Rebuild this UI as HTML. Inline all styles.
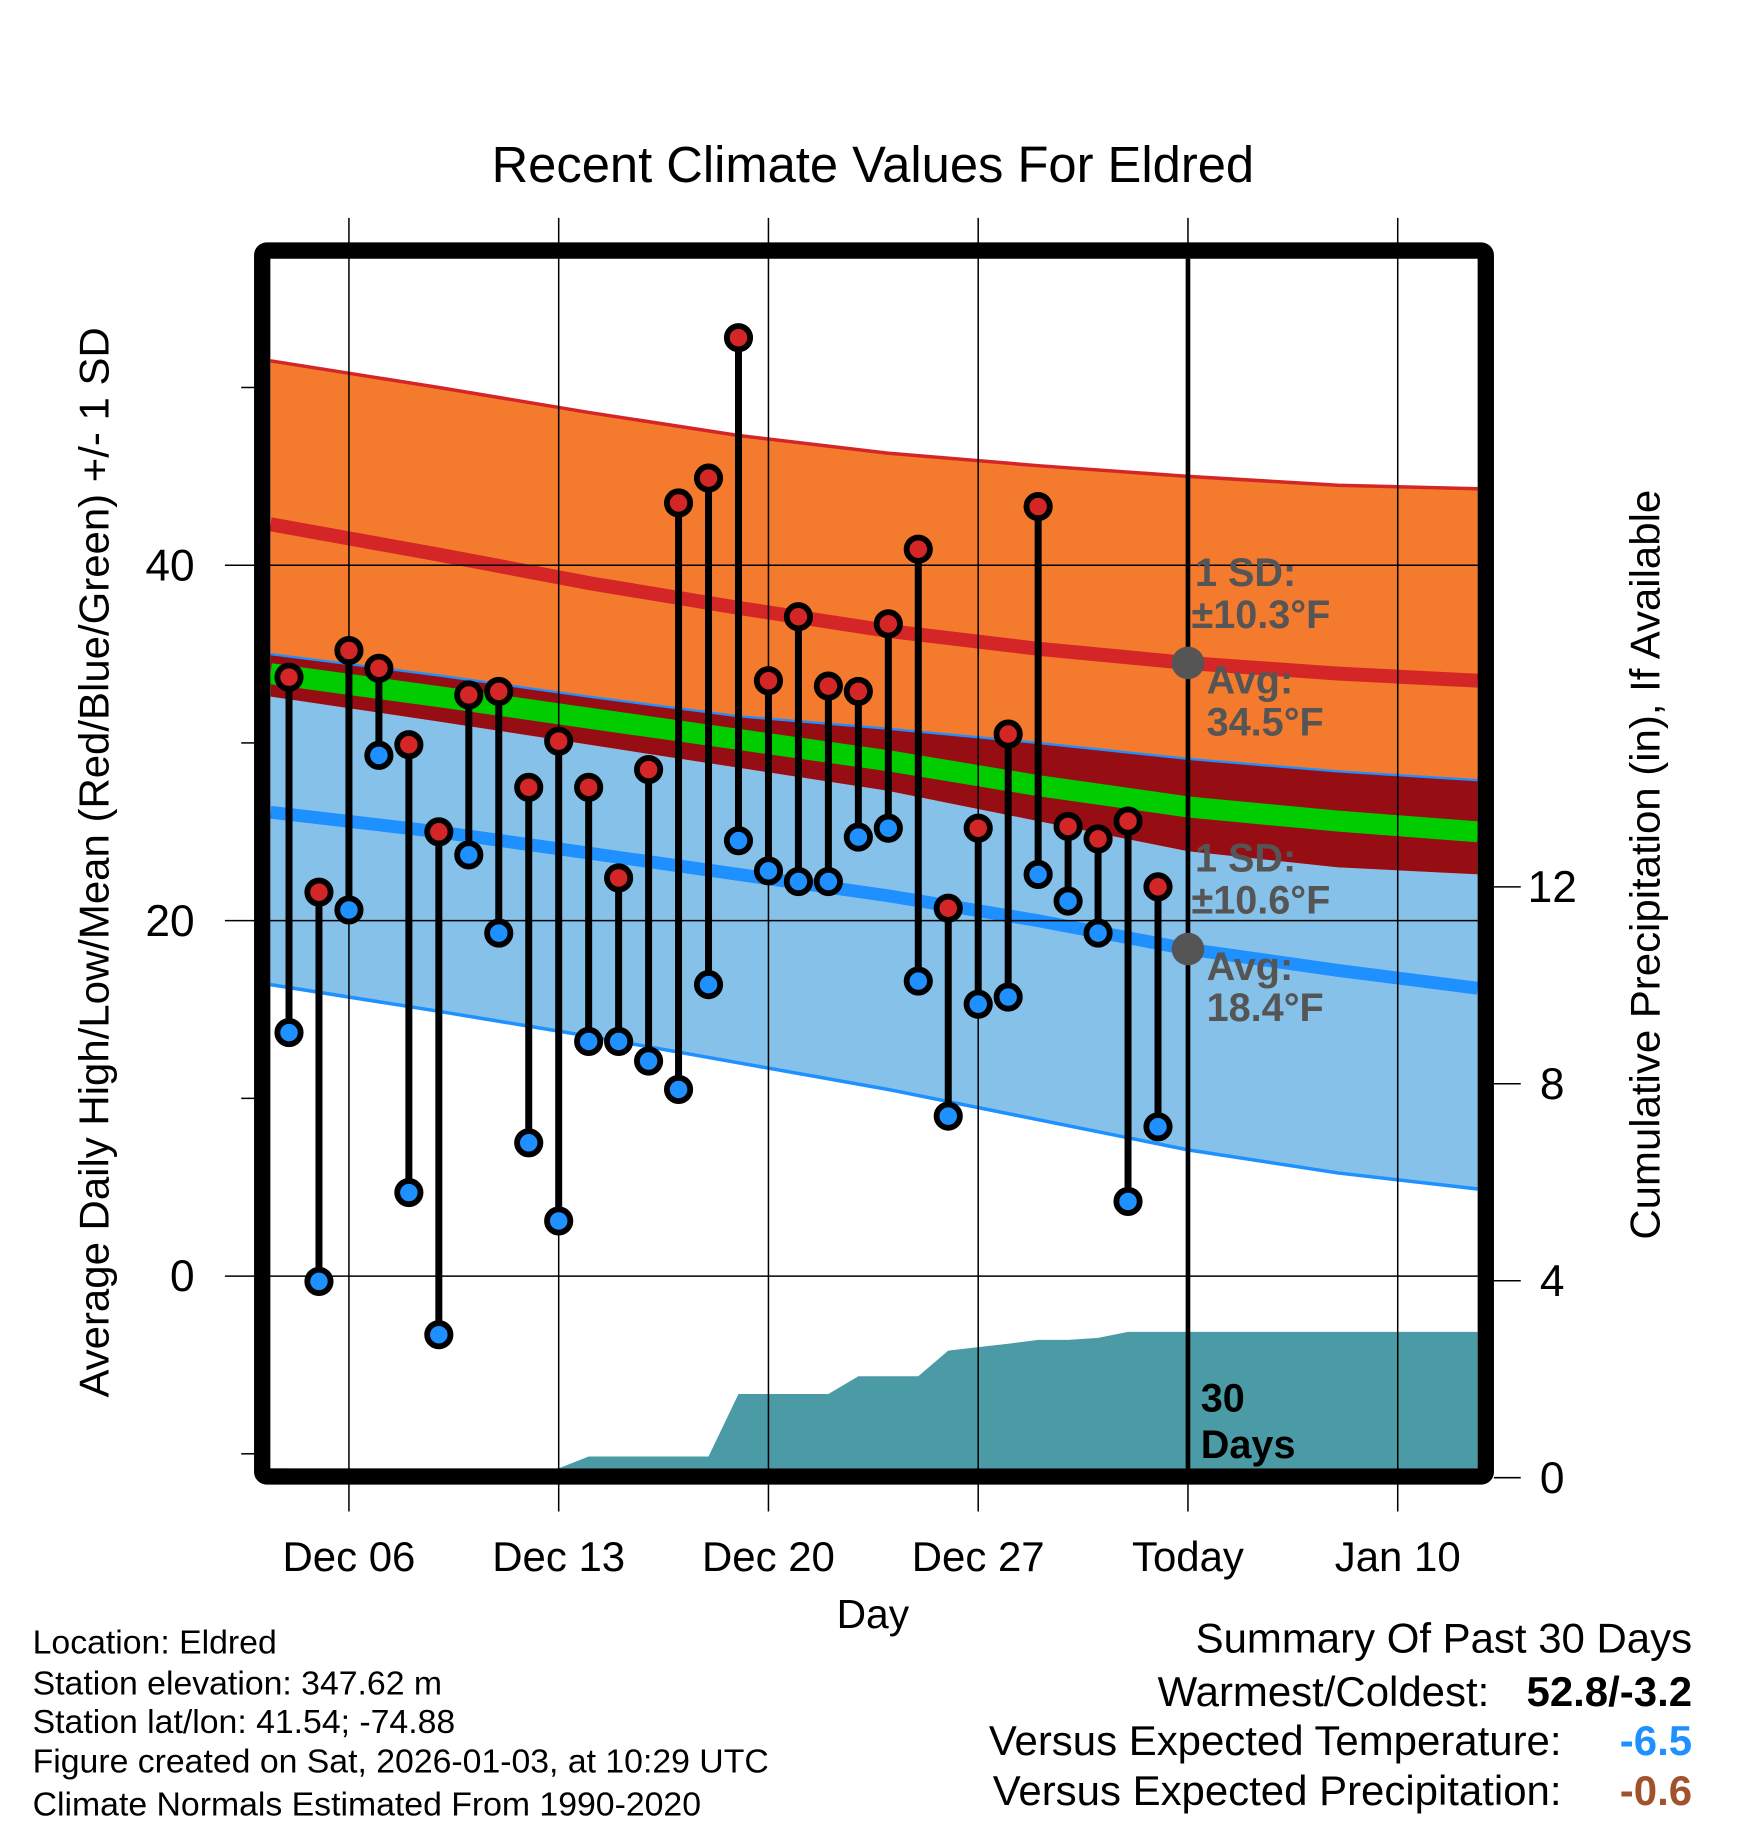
<!DOCTYPE html>
<html><head><meta charset="utf-8"><style>
html,body{margin:0;padding:0;background:#fff}
svg{display:block}
text{font-family:"Liberation Sans",sans-serif}
</style></head><body>
<svg id="chart" width="1748" height="1828" viewBox="0 0 1500 1568.6" preserveAspectRatio="none" xmlns="http://www.w3.org/2000/svg">
<text x="749" y="156" font-size="43.5" text-anchor="middle">Recent Climate Values For Eldred</text>
<g id="plot"></g>
<text x="749" y="1397" font-size="35" text-anchor="middle">Day</text>
<text transform="translate(93,740) rotate(-90)" font-size="36" text-anchor="middle">Average Daily High/Low/Mean (Red/Blue/Green) +/- 1 SD</text>
<text transform="translate(1424,742) rotate(-90)" font-size="36" text-anchor="middle">Cumulative Precipitation (in), If Available</text>
<g font-size="29">
<text x="28" y="1419">Location: Eldred</text>
<text x="28" y="1454">Station elevation: 347.62 m</text>
<text x="28" y="1487">Station lat/lon: 41.54; -74.88</text>
<text x="28" y="1521">Figure created on Sat, 2026-01-03, at 10:29 UTC</text>
<text x="28" y="1558">Climate Normals Estimated From 1990-2020</text>
</g>
<g font-size="36">
<text x="1452" y="1418" text-anchor="end">Summary Of Past 30 Days</text>
<text x="1278" y="1464" text-anchor="end">Warmest/Coldest:</text>
<text x="1452" y="1464" text-anchor="end" font-weight="bold">52.8/-3.2</text>
<text x="1340" y="1506" text-anchor="end">Versus Expected Temperature:</text>
<text x="1452" y="1506" text-anchor="end" font-weight="bold" fill="#1e90ff">-6.5</text>
<text x="1340" y="1549" text-anchor="end">Versus Expected Precipitation:</text>
<text x="1452" y="1549" text-anchor="end" font-weight="bold" fill="#a0522d">-0.6</text>
</g>
</svg>
<script>
// ---- data ----
const highs = [33.7,21.6,35.2,34.2,29.9,25.0,32.7,32.9,27.5,30.1,27.5,22.4,28.5,43.5,44.9,52.8,33.5,37.1,33.2,32.9,36.7,40.9,20.7,25.2,30.5,43.3,25.3,24.6,25.6,21.9];
const lows = [13.7,-0.3,20.6,29.3,4.7,-3.3,23.7,19.3,7.5,3.1,13.2,13.2,12.1,10.5,16.4,24.5,22.8,22.2,22.2,24.7,25.2,16.6,9.0,15.3,15.7,22.6,21.1,19.3,4.2,8.4];
const precip = [0,0,0,0,0,0,0,0,0,0,0.43,0.43,0.43,0.43,0.43,1.7,1.7,1.7,1.7,2.06,2.06,2.06,2.58,2.65,2.72,2.8,2.8,2.84,2.96,2.96];
const normDays = [-0.62,5,10,15,20,25,30,35,39.67];
const highUpper = [51.5,50.0,48.6,47.3,46.3,45.6,45.0,44.5,44.3];
const highMean = [42.3,40.6,39.0,37.6,36.3,35.3,34.5,33.9,33.5];
const highLower = [35.0,33.8,32.6,31.5,30.8,30.0,29.1,28.4,27.9];
const meanTemp = [33.9,32.6,31.4,30.2,29.0,27.6,26.4,25.6,25.0];
const lowUpper = [32.6,31.2,29.9,28.6,27.3,25.6,23.9,23.0,22.6];
const lowMean = [26.1,25.0,23.8,22.6,21.4,20.0,18.4,17.2,16.2];
const lowLower = [16.4,14.9,13.5,12.0,10.5,8.8,7.1,5.8,4.9];
const dayLabels = ["Dec 06","Dec 13","Dec 20","Dec 27","Today","Jan 10"];
const dayLabelOffsets = [2,9,16,23,30,37];
const yTicks = [0,20,40];
const y2Ticks = [0,4,8,12];

// ---- axes ----
const L=232,R=1268,T=222,B=1260;
const xS = d => 248 + d*25.714;
const yS = v => 1095 - v*15.25;
const y2S = p => 1268 - p*42.25;
const NS="http://www.w3.org/2000/svg";
const g=document.getElementById('plot');
function mk(tag,attrs,parent){const e=document.createElementNS(NS,tag);for(const k in attrs)e.setAttribute(k,attrs[k]);(parent||g).appendChild(e);return e;}
function pts(arr){return normDays.map((d,i)=>xS(d).toFixed(1)+','+yS(arr[i]).toFixed(1));}
function band(up,lo,fill,name){
  const p=pts(up).concat(pts(lo).reverse()).join(' ');
  const e=mk('polygon',{points:p,fill:fill});
  
  
}
function line(arr,color,w,name){
  const e=mk('polyline',{points:pts(arr).join(' '),fill:'none',stroke:color,'stroke-width':w});
  
  
}
band(lowUpper,lowLower,'#85c1e8','low-sd-band');
band(highUpper,highLower,'#f47a2e','high-sd-band');
band(highLower,lowUpper,'#960e14','overlap-band');
line(meanTemp,'#00cc00',18,'mean-line');
line(highMean,'#d42626',12,'high-mean-line');
line(lowMean,'#1e90ff',11,'low-mean-line');
line(highUpper,'#d42626',3,'high-upper-line');
line(highLower,'#1e90ff',2,'high-lower-line');
line(lowLower,'#1e90ff',3,'low-lower-line');

// precip area
{
  let p=[xS(-0.62)+','+B, xS(-0.62)+','+y2S(0)];
  precip.forEach((v,i)=>p.push(xS(i).toFixed(1)+','+Math.min(B,y2S(v)).toFixed(1)));
  p.push(R+','+y2S(precip[precip.length-1]).toFixed(1), R+','+B);
  const e=mk('polygon',{points:p.join(' '),fill:'#4a9ba5'});
  
  
}
// gridlines
dayLabelOffsets.forEach((d,i)=>{
  const x=xS(d);
  const e=mk('line',{x1:x,x2:x,y1:187,y2:1297,stroke:'#000','stroke-width':1.3});
  
  
  const t=mk('text',{x:x,y:1348,'font-size':36,'text-anchor':'middle'});
  t.textContent=dayLabels[i];
  
  
});
yTicks.forEach(v=>{
  const y=yS(v);
  const e=mk('line',{x1:193,x2:R,y1:y,y2:y,stroke:'#000','stroke-width':1.3});
  
  
  const t=mk('text',{x:167,y:y+13,'font-size':38,'text-anchor':'end'});
  t.textContent=v;
  
  
});
[-10,10,30,50].forEach(v=>{const y=yS(v);const e=mk('line',{x1:207,x2:220,y1:y,y2:y,stroke:'#000','stroke-width':1.3});
  
  });
y2Ticks.forEach(v=>{
  const y=y2S(v);
  const e=mk('line',{x1:1282,x2:1305,y1:y,y2:y,stroke:'#000','stroke-width':1.3});
  
  
  const t=mk('text',{x:1332,y:y+13,'font-size':38,'text-anchor':'middle'});
  t.textContent=v;
  
  
});
// today line
{const e=mk('line',{x1:xS(30),x2:xS(30),y1:T,y2:B,stroke:'#000','stroke-width':4});

}
// annotations
function txt(x,y,s,name,fill,size){const t=mk('text',{x:x,y:y,'font-size':size||34,'font-weight':'bold',fill:fill||'#555'});t.textContent=s;
  
  return t;}
const tx=xS(30);
txt(tx+6,503,'1 SD:','high-sd-label');
txt(tx+3,539,'±10.3°F','high-sd-value');
txt(tx+16,595,'Avg:','high-avg-label');
txt(tx+16,631,'34.5°F','high-avg-value');
txt(tx+6,748,'1 SD:','low-sd-label');
txt(tx+3,784,'±10.6°F','low-sd-value');
txt(tx+16,841,'Avg:','low-avg-label');
txt(tx+16,876,'18.4°F','low-avg-value');
{const c=mk('circle',{cx:tx,cy:yS(34.5),r:14,fill:'#555'});}
{const c=mk('circle',{cx:tx,cy:yS(18.4),r:14,fill:'#555'});}
txt(tx+11,1211,'30','days-label','#000',34);
txt(tx+11,1251,'Days','days-label-2','#000',34);

// stems and markers
highs.forEach((h,i)=>{
  const x=xS(i);
  const s=mk('line',{x1:x,x2:x,y1:yS(h),y2:yS(lows[i]),stroke:'#000','stroke-width':6});
  
  
  const ch=mk('circle',{cx:x,cy:yS(h),r:10,fill:'#d42626',stroke:'#000','stroke-width':5});
  
  
  const cl=mk('circle',{cx:x,cy:yS(lows[i]),r:10,fill:'#1e90ff',stroke:'#000','stroke-width':5});
  
  
});
// frame
{const f=mk('rect',{x:225,y:215,width:1050,height:1052,fill:'none',stroke:'#000','stroke-width':14,rx:4});

}
</script>
</body></html>
